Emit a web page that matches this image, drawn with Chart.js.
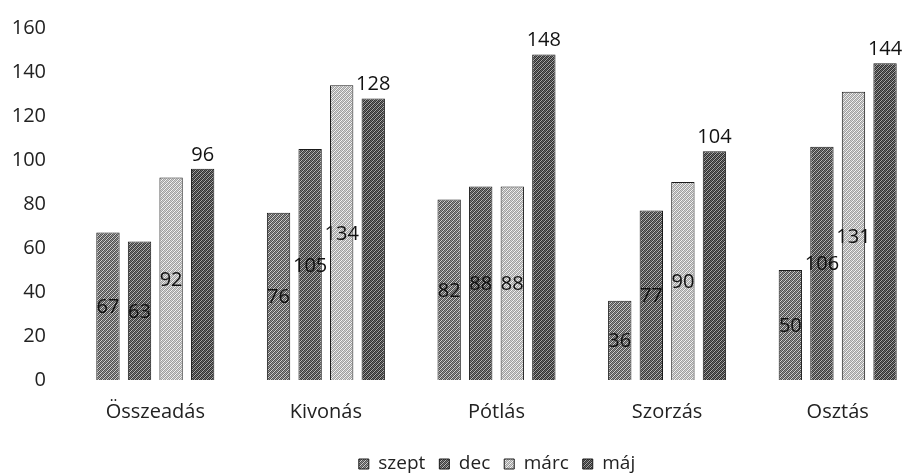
<!DOCTYPE html>
<html>
<head>
<meta charset="utf-8">
<script src="https://cdn.jsdelivr.net/npm/chart.js@4/dist/chart.umd.min.js"></script>
<style>
html,body{margin:0;padding:0;background:#fff;overflow:hidden;}
#wrap{width:904px;height:475px;position:relative;overflow:hidden;}
canvas{display:block;}
</style>
</head>
<body>
<div id="wrap"><canvas id="c" width="930" height="475"></canvas></div>
<script>
const categories = ["Összeadás", "Kivonás", "Pótlás", "Szorzás", "Osztás"];
const seriesNames = ["szept", "dec", "márc", "máj"];
const szept = [67, 76, 82, 36, 50];
const dec = [63, 105, 88, 77, 106];
const marc = [92, 134, 88, 90, 131];
const maj = [96, 128, 148, 104, 144];
const yTicks = [0, 20, 40, 60, 80, 100, 120, 140, 160];

const FONT = '"Open Sans", Lato, sans-serif';
const FS = 20;

function makePattern(dark, light, mid) {
  const c = document.createElement('canvas');
  c.width = 4; c.height = 4;
  const x = c.getContext('2d');
  const grid = [
    [0,1,0,2],
    [1,0,2,0],
    [0,2,0,1],
    [2,0,1,0]
  ];
  const cols = [dark, light, mid];
  for (let i = 0; i < 4; i++) for (let j = 0; j < 4; j++) {
    x.fillStyle = cols[grid[i][j]];
    x.fillRect(j, i, 1, 1);
  }
  return x.createPattern(c, 'repeat');
}
const patterns = [
  makePattern('#505050', '#d0d0d0', '#909090'),
  makePattern('#3c3c3c', '#b8b8b8', '#787878'),
  makePattern('#a0a0a0', '#f4f4f4', '#d0d0d0'),
  makePattern('#303030', '#a8a8a8', '#686868')
];
const seriesData = [szept, dec, marc, maj];

const labelPlugin = {
  id: 'barLabels',
  afterDatasetsDraw(chart) {
    const ctx = chart.ctx;
    ctx.save();
    ctx.font = FS + 'px ' + FONT;
    ctx.fillStyle = '#111';
    ctx.textAlign = 'center';
    ctx.textBaseline = 'alphabetic';
    chart.data.datasets.forEach((ds, di) => {
      const meta = chart.getDatasetMeta(di);
      meta.data.forEach((bar, i) => {
        const v = ds.data[i];
        if (di === 3) {
          ctx.fillText(String(v), bar.x, bar.y - 8);
        } else {
          ctx.fillText(String(v), bar.x, (bar.y + bar.base) / 2 + 7);
        }
      });
    });
    ctx.restore();
  }
};

// place legend like the original (centred under the plot, lower down)
const legendShift = {
  id: 'legendShift',
  afterLayout(chart) {
    const lg = chart.legend;
    if (!lg) return;
    const dy = 462 - (lg.top + lg.bottom) / 2;
    const dx = 497 - (lg.left + lg.right) / 2;
    lg.left += dx; lg.right += dx;
    lg.top += dy; lg.bottom += dy;
  }
};

new Chart(document.getElementById('c'), {
  type: 'bar',
  data: {
    labels: categories,
    datasets: seriesNames.map((n, k) => ({
      label: n,
      data: seriesData[k],
      backgroundColor: patterns[k],
      borderColor: '#1a1a1a',
      borderWidth: 1,
      categoryPercentage: 0.74,
      barPercentage: 0.74
    }))
  },
  options: {
    responsive: false,
    animation: false,
    layout: { padding: { left: 11, right: 7, top: 28, bottom: -12 } },
    plugins: {
      legend: {
        position: 'bottom',
        labels: {
          boxWidth: 10, boxHeight: 10, padding: 14,
          color: '#222',
          font: { size: 19, family: FONT }
        }
      },
      tooltip: { enabled: false }
    },
    scales: {
      x: {
        grid: { display: false, drawTicks: false },
        border: { display: false },
        ticks: { color: '#222', padding: 20, font: { size: FS, family: FONT } }
      },
      y: {
        min: 0, max: 160,
        afterBuildTicks: (ax) => { ax.ticks = yTicks.map(v => ({ value: v })); },
        afterFit: (s) => { s.width = 59; s.paddingTop = 0; s.paddingBottom = 0; },
        grid: { display: false, drawTicks: false },
        border: { display: false },
        ticks: { color: '#222', padding: 24, font: { size: FS, family: FONT } }
      }
    }
  },
  plugins: [labelPlugin, legendShift]
});
</script>
</body>
</html>
